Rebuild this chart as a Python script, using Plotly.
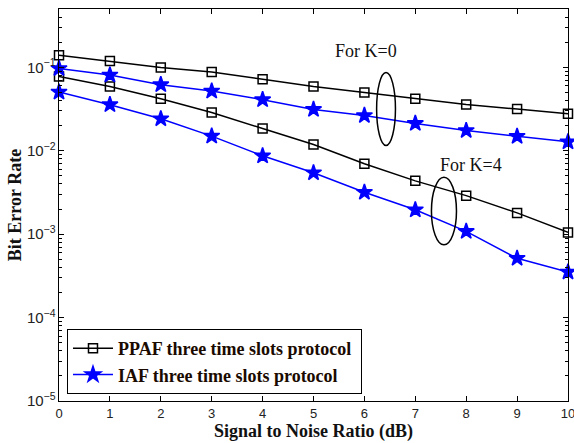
import plotly.graph_objects as go

snr = [0, 1, 2, 3, 4, 5, 6, 7, 8, 9, 10]
ppaf_k0 = [0.14, 0.119, 0.100, 0.088, 0.072, 0.059, 0.050, 0.042, 0.036, 0.0316, 0.0278]
iaf_k0 = [0.097, 0.081, 0.062, 0.052, 0.041, 0.0313, 0.0265, 0.0213, 0.0175, 0.0149, 0.0128]
ppaf_k4 = [0.078, 0.059, 0.042, 0.0288, 0.0185, 0.0119, 0.00698, 0.00436, 0.0029, 0.0018, 0.00105]
iaf_k4 = [0.0506, 0.0357, 0.0242, 0.015, 0.0087, 0.00545, 0.00318, 0.00196, 0.00108, 0.000514, 0.000352]

BLACK = "#000000"
BLUE = "#0000ff"
serif = "Liberation Serif"
sans = "Liberation Sans"

fig = go.Figure()

def add(y, color, symbol, size, name, show):
    fig.add_trace(go.Scatter(
        x=snr, y=y, mode="lines+markers", name=name, legendgroup=name,
        showlegend=show, cliponaxis=False,
        line=dict(color=color, width=1.5),
        marker=dict(symbol=symbol, size=size, color=color,
                    line=dict(color=color, width=1.5)),
    ))

add(ppaf_k0, BLACK, "square-open", 9, "PPAF three time slots protocol\u00a0", True)
add(ppaf_k4, BLACK, "square-open", 9, "PPAF three time slots protocol\u00a0", False)
add(iaf_k0, BLUE, "star", 12, "IAF three time slots protocol", True)
add(iaf_k4, BLUE, "star", 12, "IAF three time slots protocol", False)

fig.add_annotation(x=6.04, y=-0.808, text="For K=0", showarrow=False,
                   font=dict(family=serif, size=18, color="#111"))
fig.add_annotation(x=8.09, y=-2.176, text="For K=4", showarrow=False,
                   font=dict(family=serif, size=18, color="#111"))

fig.add_shape(type="circle", xref="x", yref="y", x0=6.24, x1=6.61,
              y0=0.01159, y1=0.0871, line=dict(color=BLACK, width=1.5))
fig.add_shape(type="circle", xref="x", yref="y", x0=7.317, x1=7.809,
              y0=0.000745, y1=0.00482, line=dict(color=BLACK, width=1.5))

fig.update_layout(
    width=574, height=443,
    margin=dict(l=59, r=6, t=9, b=42, autoexpand=False),
    paper_bgcolor="white", plot_bgcolor="white",
    showlegend=True,
    legend=dict(x=0.0157, y=0.018, xanchor="left", yanchor="bottom",
                bgcolor="white", bordercolor=BLACK, borderwidth=1,
                font=dict(family=serif, size=18, color="#1a0a00", weight="bold"),
                itemwidth=40, tracegroupgap=0),
)
fig.update_xaxes(
    range=[0, 10], dtick=1, showgrid=False, zeroline=False, automargin=False,
    showline=True, linecolor=BLACK, linewidth=1, mirror="ticks",
    ticks="inside", ticklen=5, tickcolor=BLACK, ticklabeloverflow="allow",
    tickfont=dict(family=sans, size=13, color="#222"),
    title=dict(text="<b>Signal to Noise Ratio (dB)</b>", standoff=2,
               font=dict(family=serif, size=18, color="#111")),
)
fig.update_yaxes(
    type="log", range=[-5, -0.3], dtick=1, exponentformat="power",
    showexponent="all", showgrid=False, zeroline=False, automargin=False,
    showline=True, linecolor=BLACK, linewidth=1, mirror="ticks",
    ticks="inside", ticklen=5, tickcolor=BLACK, ticklabeloverflow="allow",
    minor=dict(ticks="inside", ticklen=3, tickcolor=BLACK, showgrid=False),
    tickfont=dict(family=sans, size=12, color="#222"),
    title=dict(text="<b>Bit Error Rate</b>", standoff=0,
               font=dict(family=serif, size=18, color="#111")),
)

fig.write_html(
    "out.html",
    config={"displayModeBar": False},
    post_script="document.body.style.margin='0';document.body.style.overflow='hidden';",
)
